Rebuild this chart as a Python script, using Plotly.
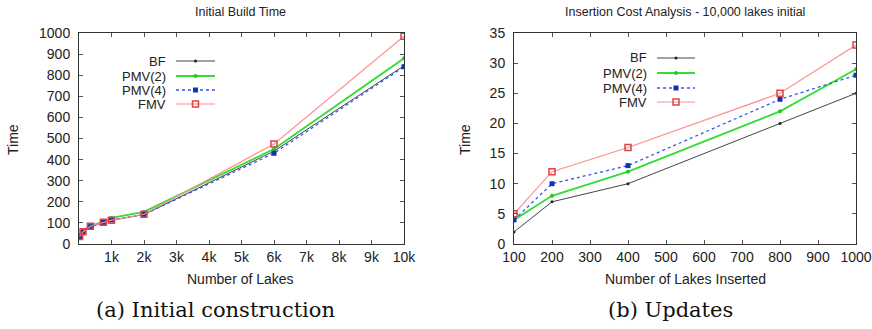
import plotly.graph_objects as go

# ---------------- data ----------------
series_names = ["BF", "PMV(2)", "PMV(4)", "FMV"]

build_lakes = [20, 125, 350, 750, 1000, 2000, 6000, 10000]
build_bf    = [35, 60, 82, 102, 112, 140, 440, 845]
build_pmv2  = [36, 62, 86, 106, 124, 152, 450, 880]
build_pmv4  = [34, 58, 82, 102, 114, 140, 430, 840]
build_fmv   = [35, 58, 84, 103, 113, 141, 474, 985]

ins_lakes = [100, 200, 400, 800, 1000]
ins_bf    = [2, 7, 10, 20, 25]
ins_pmv2  = [4, 8, 12, 22, 29]
ins_pmv4  = [4, 10, 13, 24, 28]
ins_fmv   = [5, 12, 16, 25, 33]

left_xticks = [1000, 2000, 3000, 4000, 5000, 6000, 7000, 8000, 9000, 10000]
left_xticktext = ["1k", "2k", "3k", "4k", "5k", "6k", "7k", "8k", "9k", "10k"]
right_xticks = [100, 200, 300, 400, 500, 600, 700, 800, 900, 1000]

titles = ["Initial Build Time", "Insertion Cost Analysis - 10,000 lakes initial"]
xtitles = ["Number of Lakes", "Number of Lakes Inserted"]
captions = ["(a) Initial construction", "(b) Updates"]

# ---------------- styles ----------------
styles = {
    "BF":     dict(line=dict(color="#444444", width=1), marker=dict(symbol="circle", size=3, color="#222222")),
    "PMV(2)": dict(line=dict(color="#33dd33", width=1.8), marker=dict(symbol="circle", size=4, color="#22cc22")),
    "PMV(4)": dict(line=dict(color="#3355ee", width=1.3, dash="dot"), marker=dict(symbol="square", size=5, color="#1133bb")),
    "FMV":    dict(line=dict(color="#ff9090", width=1.2), marker=dict(symbol="square-open", size=6, color="#dd4444", line=dict(width=1.5))),
}

W, H = 872, 329
def px_x(p): return p / W
def px_y(p): return (H - p) / H

L_dom = [px_x(79), px_x(404)]
R_dom = [px_x(514), px_x(856)]
Y_dom = [px_y(244), px_y(33)]

fig = go.Figure()

left_data = dict(zip(series_names, [build_bf, build_pmv2, build_pmv4, build_fmv]))
right_data = dict(zip(series_names, [ins_bf, ins_pmv2, ins_pmv4, ins_fmv]))

for n in series_names:
    fig.add_trace(go.Scatter(x=build_lakes, y=left_data[n], mode="lines+markers",
                             xaxis="x", yaxis="y", showlegend=False, **styles[n]))
for n in series_names:
    fig.add_trace(go.Scatter(x=ins_lakes, y=right_data[n], mode="lines+markers",
                             xaxis="x2", yaxis="y2", showlegend=False, **styles[n]))

# manual gnuplot-style legends on overlay axes in pixel units
leg_left = dict(text_right=168, x0=176, x1=215, ys=[61, 76, 90, 104])
leg_right = dict(text_right=649, x0=657, x1=695, ys=[58, 73, 88, 102])
annotations = []
font_sans = "Liberation Sans, Arial"
for leg, xa, ya in [(leg_left, "x3", "y3"), (leg_right, "x4", "y4")]:
    for n, yy in zip(series_names, leg["ys"]):
        st = styles[n]
        fig.add_trace(go.Scatter(x=[leg["x0"], (leg["x0"] + leg["x1"]) / 2, leg["x1"]],
                                 y=[yy, yy, yy], mode="lines", line=st["line"],
                                 xaxis=xa, yaxis=ya, showlegend=False, hoverinfo="skip"))
        fig.add_trace(go.Scatter(x=[(leg["x0"] + leg["x1"]) / 2], y=[yy], mode="markers",
                                 marker=st["marker"], xaxis=xa, yaxis=ya, showlegend=False, hoverinfo="skip"))
        annotations.append(dict(x=px_x(leg["text_right"]), y=px_y(yy), xref="paper", yref="paper",
                                text=n, showarrow=False, xanchor="right", yanchor="middle",
                                font=dict(family=font_sans, size=13, color="#222")))

# titles
for t, cx in zip(titles, [241, 685]):
    annotations.append(dict(x=px_x(cx), y=px_y(12), xref="paper", yref="paper", text=t, showarrow=False,
                            xanchor="center", yanchor="middle", font=dict(family=font_sans, size=12.5, color="#222")))
for t, cx in zip(xtitles, [241, 685]):
    annotations.append(dict(x=px_x(cx), y=px_y(279), xref="paper", yref="paper", text=t, showarrow=False,
                            xanchor="center", yanchor="middle", font=dict(family=font_sans, size=14, color="#222")))
for cx in [13, 465]:
    annotations.append(dict(x=px_x(cx), y=px_y(140), xref="paper", yref="paper", text="Time", showarrow=False,
                            textangle=-90, xanchor="center", yanchor="middle", font=dict(family=font_sans, size=14, color="#222")))
for t, cx in zip(captions, [215, 670]):
    annotations.append(dict(x=px_x(cx), y=px_y(310), xref="paper", yref="paper", text=t, showarrow=False,
                            xanchor="center", yanchor="middle", font=dict(family="DejaVu Serif, Liberation Serif", size=21, color="#111")))

axis_common = dict(showgrid=False, zeroline=False, showline=True, linecolor="#333", linewidth=1,
                   mirror="ticks", ticks="inside", ticklen=4, tickcolor="#555", automargin=False,
                   tickfont=dict(family=font_sans, size=14, color="#222"))

hidden = dict(visible=False, showgrid=False, zeroline=False, fixedrange=True, automargin=False)

fig.update_layout(
    width=W, height=H, margin=dict(l=0, r=0, t=0, b=0, pad=0, autoexpand=False),
    showlegend=False,
    paper_bgcolor="white", plot_bgcolor="rgba(0,0,0,0)",
    xaxis=dict(domain=L_dom, range=[0, 10000], tickvals=left_xticks, ticktext=left_xticktext, anchor="y",
               ticklabelstandoff=0, **axis_common),
    yaxis=dict(domain=Y_dom, range=[0, 1000], dtick=100, anchor="x", ticklabelstandoff=5, **axis_common),
    xaxis2=dict(domain=R_dom, range=[100, 1000], tickvals=right_xticks, anchor="y2", ticklabelstandoff=0, **axis_common),
    yaxis2=dict(domain=Y_dom, range=[0, 35], dtick=5, anchor="x2", ticklabelstandoff=5, **axis_common),
    xaxis3=dict(domain=L_dom, range=[79, 404], anchor="y3", overlaying="x", **hidden),
    yaxis3=dict(domain=Y_dom, range=[244, 33], anchor="x3", overlaying="y", **hidden),
    xaxis4=dict(domain=R_dom, range=[514, 856], anchor="y4", overlaying="x2", **hidden),
    yaxis4=dict(domain=Y_dom, range=[244, 33], anchor="x4", overlaying="y2", **hidden),
    annotations=annotations,
)

fig.write_html("out.html")
